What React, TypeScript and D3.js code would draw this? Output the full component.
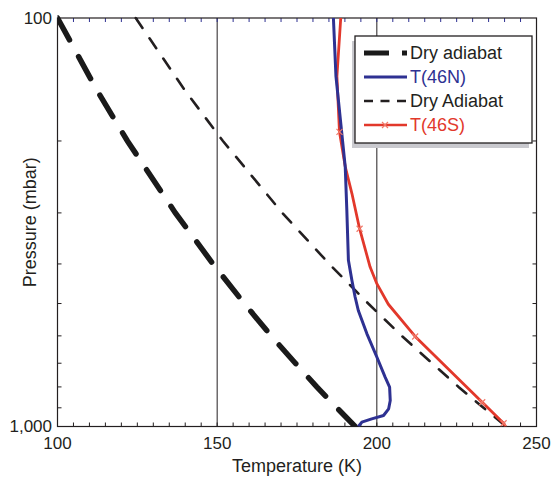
import React, { useEffect, useRef } from 'react';
import * as d3 from 'd3';

// pressure levels (mbar) used by the two adiabats
const adiabatP = [100, 150, 200, 300, 400, 500, 600, 700, 800, 900, 1000];
const dryAdiabatThick = [100, 112.3, 121.9, 136.9, 148.7, 158.5, 166.9, 174.5, 181.2, 187.5, 193.2];
const dryAdiabatThin = [124.5, 139.8, 151.8, 170.4, 185.1, 197.3, 207.8, 217.3, 225.6, 233.4, 240.5];

// T(46N) profile
const northP = [100, 139, 231, 295, 392, 439, 482, 520, 593, 676, 757, 801, 864, 905, 940, 958, 976, 1000];
const northT = [186.4, 187.2, 190.1, 190.6, 191.1, 192.2, 193.2, 194.2, 196.9, 200.0, 202.6, 204.0, 204.2, 203.7, 202.1, 198.4, 195.3, 194.2];

// T(46S) profile
const southP = [100, 139, 190, 231, 269, 328, 407, 447, 502, 602, 872, 982, 1000];
const southT = [188.7, 187.5, 188.3, 190.1, 192.2, 194.6, 197.9, 200.0, 203.6, 212.0, 233.0, 239.7, 240.3];
const southMarkP = [190, 328, 602, 872, 982];
const southMarkT = [188.3, 194.6, 212.0, 233.0, 239.7];

const xTicks = [100, 150, 200, 250];
const yTickLabels = ['100', '1,000'];
const legendNames = ['Dry adiabat', 'T(46N)', 'Dry Adiabat', 'T(46S)'];

const BLUE = '#2e3192';
const RED = '#e2382b';
const INK = '#231f20';

export default function App() {
  const ref = useRef<SVGSVGElement>(null);

  useEffect(() => {
    const svg = d3.select(ref.current);
    svg.selectAll('*').remove();

    const x = d3.scaleLinear().domain([100, 250]).range([57.5, 536.5]);
    const y = d3.scaleLog().domain([100, 1000]).range([18, 426.5]);
    const [x0, x1] = x.range();
    const [y0, y1] = y.range();

    const line = d3.line<[number, number]>()
      .x(d => x(d[1]))
      .y(d => y(d[0]));

    const g = svg.append('g');

    // grid lines at 150 and 200
    g.selectAll('.grid')
      .data([150, 200])
      .join('line')
      .attr('x1', d => x(d)).attr('x2', d => x(d))
      .attr('y1', y0).attr('y2', y1)
      .attr('stroke', INK).attr('stroke-width', 1);

    // minor ticks on x (every 5 K)
    const minorX = d3.range(105, 250, 5);
    g.selectAll('.tb')
      .data(minorX)
      .join('line')
      .attr('x1', d => x(d)).attr('x2', d => x(d))
      .attr('y1', y1).attr('y2', y1 - 4)
      .attr('stroke', INK).attr('stroke-width', 1);
    g.selectAll('.tt')
      .data(minorX)
      .join('line')
      .attr('x1', d => x(d)).attr('x2', d => x(d))
      .attr('y1', y0).attr('y2', y0 + 4)
      .attr('stroke', BLUE).attr('stroke-width', 1);

    // y log ticks
    const minorY = d3.range(200, 1000, 100);
    g.selectAll('.tl')
      .data(minorY)
      .join('line')
      .attr('x1', x0).attr('x2', x0 + 4)
      .attr('y1', d => y(d)).attr('y2', d => y(d))
      .attr('stroke', INK).attr('stroke-width', 1);
    g.selectAll('.tr')
      .data(minorY)
      .join('line')
      .attr('x1', x1).attr('x2', x1 - 4)
      .attr('y1', d => y(d)).attr('y2', d => y(d))
      .attr('stroke', INK).attr('stroke-width', 1);

    // frame
    g.append('rect')
      .attr('x', x0).attr('y', y0)
      .attr('width', x1 - x0).attr('height', y1 - y0)
      .attr('fill', 'none').attr('stroke', INK).attr('stroke-width', 1.2);

    const clip = svg.append('clipPath').attr('id', 'plotclip');
    clip.append('rect').attr('x', x0).attr('y', y0 - 3).attr('width', x1 - x0).attr('height', y1 - y0 + 3);
    const plot = g.append('g').attr('clip-path', 'url(#plotclip)');

    // thin dashed adiabat
    plot.append('path')
      .attr('d', line(adiabatP.map((p, i) => [p, dryAdiabatThin[i]])))
      .attr('fill', 'none').attr('stroke', INK).attr('stroke-width', 2.6)
      .attr('stroke-dasharray', '12,12.5').attr('stroke-linecap', 'round');

    // thick dashed adiabat
    plot.append('path')
      .attr('d', line(adiabatP.map((p, i) => [p, dryAdiabatThick[i]])))
      .attr('fill', 'none').attr('stroke', '#1a1a1a').attr('stroke-width', 5.5)
      .attr('stroke-dasharray', '25,19').attr('stroke-linecap', 'round');

    // T(46S)
    plot.append('path')
      .attr('d', line(southP.map((p, i) => [p, southT[i]])))
      .attr('fill', 'none').attr('stroke', RED).attr('stroke-width', 2.8)
      .attr('stroke-linejoin', 'round');

    // T(46N)
    plot.append('path')
      .attr('d', line(northP.map((p, i) => [p, northT[i]])))
      .attr('fill', 'none').attr('stroke', BLUE).attr('stroke-width', 3)
      .attr('stroke-linejoin', 'round');

    // markers on T(46S)
    const cross = (cx: number, cy: number, s: number) =>
      `M${cx - s},${cy - s}L${cx + s},${cy + s}M${cx - s},${cy + s}L${cx + s},${cy - s}`;
    plot.selectAll('.mk')
      .data(southMarkP)
      .join('path')
      .attr('d', (p, i) => cross(x(southMarkT[i]), y(p), 3))
      .attr('stroke', '#f07a6a').attr('stroke-width', 1.2).attr('fill', 'none');

    // x tick labels
    g.selectAll('.xl')
      .data(xTicks)
      .join('text')
      .attr('x', d => x(d)).attr('y', 448.5)
      .attr('text-anchor', 'middle')
      .attr('font-size', 17).attr('fill', INK)
      .text(d => String(d));

    // y tick labels
    g.selectAll('.yl')
      .data([100, 1000])
      .join('text')
      .attr('x', 52).attr('y', d => y(d) + 5.5)
      .attr('text-anchor', 'end')
      .attr('font-size', 17).attr('fill', INK)
      .text((d, i) => yTickLabels[i]);

    // axis titles
    g.append('text')
      .attr('x', (x0 + x1) / 2).attr('y', 471.5)
      .attr('text-anchor', 'middle').attr('font-size', 18).attr('fill', INK)
      .text('Temperature (K)');
    g.append('text')
      .attr('transform', `translate(36,${(y0 + y1) / 2}) rotate(-90)`)
      .attr('text-anchor', 'middle').attr('font-size', 18).attr('fill', INK)
      .text('Pressure (mbar)');

    // legend
    const lg = g.append('g');
    lg.append('rect')
      .attr('x', 352).attr('y', 41).attr('width', 177).attr('height', 107)
      .attr('fill', '#c9c9ce');
    lg.append('rect')
      .attr('x', 355).attr('y', 36).attr('width', 177).attr('height', 107)
      .attr('fill', 'white').attr('stroke', INK).attr('stroke-width', 1.3);

    const rowY = d3.scaleLinear().domain([0, 3]).range([53, 125]);
    const styles = [
      { color: '#1a1a1a', width: 5, dash: '25,13', text: INK },
      { color: BLUE, width: 2.8, dash: null, text: BLUE },
      { color: INK, width: 2.6, dash: '9,7.5', text: INK },
      { color: RED, width: 2.6, dash: null, text: RED },
    ];
    legendNames.forEach((name, i) => {
      const yy = rowY(i);
      const s = styles[i];
      const l = lg.append('line')
        .attr('x1', 364).attr('x2', 407)
        .attr('y1', yy).attr('y2', yy)
        .attr('stroke', s.color).attr('stroke-width', s.width);
      if (s.dash) l.attr('stroke-dasharray', s.dash);
      if (i === 3) {
        lg.append('path').attr('d', cross(385, yy, 3))
          .attr('stroke', '#f07a6a').attr('stroke-width', 1.2);
      }
      lg.append('text')
        .attr('x', 410).attr('y', yy + 6)
        .attr('font-size', 18).attr('fill', s.text)
        .text(name);
    });
  }, []);

  return (
    <svg
      ref={ref}
      width={554}
      height={477}
      style={{ position: 'absolute', left: 0, top: 0, background: 'white', fontFamily: '"Liberation Sans", Arial, sans-serif' }}
    />
  );
}
